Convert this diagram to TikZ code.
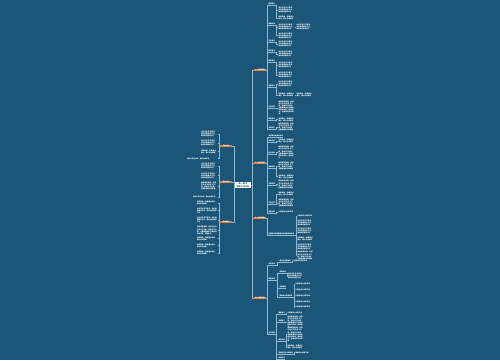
\documentclass[tikz,border=0pt]{standalone}
\usepackage{fontspec}
\newfontfamily\cjk{Noto Sans CJK SC}
\XeTeXlinebreaklocale "zh"
\XeTeXlinebreakskip=0pt plus 0.5pt

\definecolor{mapbg}{RGB}{27,85,119}
\definecolor{topicorange}{RGB}{232,128,62}
\definecolor{linkblue}{RGB}{140,185,212}

\newcommand{\mini}{\cjk\bfseries\fontsize{1.6pt}{2.1pt}\selectfont}
% filler texts, by length
\newcommand{\ta}{认真备课上好每节课}
\newcommand{\tb}{钻研教材，把握重点难点，精心设计教案}
\newcommand{\tc}{关注学生学习情况，及时调整教学方法，做好课后辅导工作}
\newcommand{\td}{加强课堂管理，培养学生良好的学习习惯，激发学习兴趣，注重基础知识的掌握}
\newcommand{\te}{加强课堂管理，培养学生良好的学习习惯，激发学习兴趣，注重基础知识与基本技能的训练，提高能力}
\newcommand{\tf}{加强课堂管理，培养学生良好的学习习惯，激发学习兴趣，注重基础知识与基本技能的训练，提高能力，全面提升教学质量。}
\newcommand{\tg}{坚持以学生为本，面向全体学生}

\tikzset{
  centre/.style={fill=white, text=mapbg, font=\cjk\bfseries\fontsize{2pt}{2.5pt}\selectfont,
    text width=14pt, align=center, inner sep=0.8pt},
  topic/.style={fill=topicorange, text=white, font=\mini, minimum width=12pt,
    minimum height=2.8pt, inner sep=0.2pt},
  subtopic/.style={text=white, font=\mini, inner sep=0.3pt, anchor=west,
    append after command={(\tikzlastnode.south west) edge[link] (\tikzlastnode.south east)}},
  leaf/.style={text=white, font=\mini, text width=#1, align=left, inner sep=0.3pt, anchor=west},
  leaf/.default=16pt,
  lleaf/.style={leaf=#1, anchor=east},
  lleaf/.default=16pt,
  link/.style={draw=linkblue, line width=0.35pt},
  elbow/.style={to path={-- ++(#1,0) |- (\tikztotarget)}},
}

\begin{document}
\begin{tikzpicture}[x=1pt,y=-1pt]
\fill[mapbg] (0,0) rectangle (500,360);
\useasboundingbox (0,0) rectangle (500,360);

% centre and main topics
\node[centre] (root) at (243,185) {高一数学\\教学工作计划};
\node[topic] (r1) at (260,70) {一、指导思想};
\node[topic] (r2) at (260,163) {二、教学目标};
\node[topic] (r3) at (260,218) {三、教学措施};
\node[topic] (r4) at (260,298) {四、教学进度};
\node[topic] (l1) at (226,146) {学情分析};
\node[topic] (l2) at (226,182) {教材分析};
\node[topic] (l3) at (226,222) {具体要求};

\foreach \n in {r1,r2,r3,r4} \draw[link] (root.east) to[elbow=1.5] (\n.west);
\foreach \n in {l1,l2,l3} \draw[link] (root.west) to[elbow=-1] (\n.east);

% first branch
\node[subtopic] (a1) at (268,4) {教学理念};
\node[subtopic] (a2) at (268,24) {课程标准};
\node[subtopic] (a3) at (268,41) {学生情况};
\node[subtopic] (a4) at (268,51) {教学重点};
\node[subtopic] (a5) at (268,61) {教学难点};
\node[subtopic] (a6) at (268,86) {课堂教学};
\node[subtopic] (a7) at (268,107) {作业布置};
\node[subtopic] (a8) at (268,119) {课后辅导};
\node[subtopic] (a9) at (268,128) {考试评价};
\foreach \n in {a1,a2,a3,a4,a5,a6,a7,a8,a9} \draw[link] (r1.east) to[elbow=1] (\n.south west);

\node[leaf] (a1x) at (278,10) {\tc};
\node[leaf] (a1y) at (278,18) {\tb};
\node[leaf] (a2x) at (278,27) {\tc};
\node[leaf] (a2z) at (296,27) {\tc};
\node[leaf] (a2y) at (278,35.5) {\tc};
\node[leaf] (a3x) at (278,44) {\tc};
\node[leaf] (a4x) at (278,54) {\tc};
\node[leaf] (a5x) at (278,65) {\tc};
\node[leaf] (a5y) at (278,75) {\tc};
\node[leaf] (a6x) at (278,84) {\tc};
\node[leaf] (a6y) at (278,95) {\tb};
\node[leaf] (a6z) at (296,95) {\tb};
\node[leaf] (a7x) at (278,108) {\tf};
\node[leaf] (a8x) at (278,119.5) {\tb};
\node[leaf] (a9x) at (278,127) {\td};
\draw[link] (a1.south east) to[elbow=1] (a1x.west);
\draw[link] (a1.south east) to[elbow=1] (a1y.west);
\draw[link] (a2.south east) to[elbow=1] (a2x.west);
\draw[link] (a2.south east) to[elbow=1] (a2y.west);
\draw[link] (a2x.east) -- (a2z.west);
\draw[link] (a3.south east) to[elbow=1] (a3x.west);
\draw[link] (a4.south east) to[elbow=1] (a4x.west);
\draw[link] (a5.south east) to[elbow=1] (a5x.west);
\draw[link] (a5.south east) to[elbow=1] (a5y.west);
\draw[link] (a6.south east) to[elbow=1] (a6x.west);
\draw[link] (a6.south east) to[elbow=1] (a6y.west);
\draw[link] (a6y.east) -- (a6z.west);
\draw[link] (a7.south east) to[elbow=1] (a7x.west);
\draw[link] (a8.south east) to[elbow=1] (a8x.west);
\draw[link] (a9.south east) to[elbow=1] (a9x.west);

% second branch
\node[subtopic] (b1) at (268,136) {本学期总体教学目标};
\node[subtopic] (b2) at (268,141) {知识目标};
\node[subtopic] (b3) at (268,153) {能力目标};
\node[subtopic] (b4) at (268,167) {情感目标};
\node[subtopic] (b5) at (268,184) {习惯养成};
\node[subtopic] (b6) at (268,203) {学法指导};
\node[subtopic] (b7) at (268,212) {质量目标};
\foreach \n in {b1,b2,b3,b4,b5,b6,b7} \draw[link] (r2.east) to[elbow=1] (\n.south west);

\node[leaf] (b2x) at (278,141) {\tb};
\node[leaf] (b3x) at (278,152.5) {\te};
\node[leaf] (b4x) at (278,166) {\td};
\node[leaf] (b4y) at (278,176.5) {\tb};
\node[leaf] (b5x) at (278,184.5) {\td};
\node[leaf] (b6x) at (278,194) {\tb};
\node[leaf] (b6y) at (278,203) {\td};
\node[leaf] (b7x) at (278,212) {\ta};
\draw[link] (b2.south east) to[elbow=1] (b2x.west);
\draw[link] (b3.south east) to[elbow=1] (b3x.west);
\draw[link] (b4.south east) to[elbow=1] (b4x.west);
\draw[link] (b4.south east) to[elbow=1] (b4y.west);
\draw[link] (b5.south east) to[elbow=1] (b5x.west);
\draw[link] (b6.south east) to[elbow=1] (b6x.west);
\draw[link] (b6.south east) to[elbow=1] (b6y.west);
\draw[link] (b7.south east) to[elbow=1] (b7x.west);

% third branch
\node[subtopic] (c1) at (268,234) {加强教学常规管理切实提高课堂效率};
\draw[link] (r3.east) to[elbow=1] (c1.south west);
\node[leaf] (c1a) at (297,216) {\ta};
\node[leaf] (c1b) at (297,222.5) {\tc};
\node[leaf] (c1c) at (297,231) {\tc};
\node[leaf] (c1d) at (297,239) {\tb};
\node[leaf] (c1e) at (297,246.5) {\tc};
\node[leaf] (c1f) at (297,255.5) {\td};
\foreach \n in {c1a,c1b,c1c,c1d,c1e,c1f} \draw[link] (c1.south east) to[elbow=1.3] (\n.west);

% fourth branch
\node[subtopic] (d1) at (268,264) {单元安排};
\node[subtopic] (d2) at (268,279) {课时安排};
\node[subtopic] (d3) at (268,333) {复习安排};
\foreach \n in {d1,d2,d3} \draw[link] (r4.east) to[elbow=1] (\n.south west);

\node[subtopic] (d1a) at (279,261) {集合与函数概念};
\node[leaf] (d1x) at (292,261) {\ta};
\draw[link] (d1.south east) to[elbow=2] (d1a.south west);
\draw[link] (d1a.south east) to[elbow=0.5] (d1x.west);

\node[subtopic] (d2a) at (279,272) {指数函数};
\node[subtopic] (d2b) at (279,287) {对数函数};
\node[subtopic] (d2c) at (279,296) {幂函数与函数应用};
\foreach \n in {d2a,d2b,d2c} \draw[link] (d2.south east) to[elbow=2] (\n.south west);
\node[leaf] (d2ax) at (287.5,276) {\tc};
\draw[link] (d2a.south east) to[elbow=0.6] (d2ax.west);
\node[leaf] (d2c1) at (295,284) {\ta};
\node[leaf] (d2c2) at (295,290) {\ta};
\node[leaf] (d2c3) at (295,296) {\ta};
\node[leaf] (d2c4) at (295,302) {\ta};
\node[leaf] (d2c5) at (295,307) {\ta};
\foreach \n in {d2c1,d2c2,d2c3,d2c4,d2c5} \draw[link] (d2c.south east) to[elbow=1] (\n.west);

\node[subtopic] (e1) at (278,313) {基础复习};
\node[subtopic] (e2) at (278,321) {专题复习};
\node[subtopic] (e3) at (278,340) {综合训练};
\node[subtopic] (e4) at (278,353) {考前指导与心理调适};
\node[subtopic] (e5) at (278,358) {总结反思};
\foreach \n in {e1,e2,e3,e4,e5} \draw[link] (d3.south east) to[elbow=1] (\n.south west);
\node[leaf] (e1x) at (287,313) {\ta};
\node[leaf] (e2x) at (287,322) {\te};
\node[leaf] (e3x) at (287,334.5) {\tf};
\node[leaf] (e3y) at (287,347) {\tb};
\node[leaf] (e4x) at (293.5,353) {\ta};
\draw[link] (e1.south east) to[elbow=0.6] (e1x.west);
\draw[link] (e2.south east) to[elbow=0.6] (e2x.west);
\draw[link] (e3.south east) to[elbow=0.6] (e3x.west);
\draw[link] (e3.south east) to[elbow=0.6] (e3y.west);
\draw[link] (e4.south east) to[elbow=0.6] (e4x.west);

% left side
\node[lleaf] (la1) at (217.5,134) {\tc};
\node[lleaf] (la2) at (217.5,143) {\tc};
\node[lleaf] (la3) at (217.5,151.5) {\tb};
\node[lleaf=30pt] (la4) at (217.5,158.5) {\tg};
\foreach \n in {la1,la2,la3,la4} \draw[link] (l1.west) to[elbow=-1] (\n.east);

\node[lleaf] (lb1) at (217.5,166) {\tc};
\node[lleaf] (lb2) at (217.5,175.5) {\tc};
\node[lleaf] (lb3) at (217.5,186) {\td};
\node[lleaf=24pt] (lb4) at (217.5,197) {\tg};
\foreach \n in {lb1,lb2,lb3,lb4} \draw[link] (l2.west) to[elbow=-1] (\n.east);

\node[lleaf=20pt] (lc1) at (217.5,203) {\tb};
\node[lleaf=20pt] (lc2) at (217.5,210.5) {\tc};
\node[lleaf=20pt] (lc3) at (217.5,220) {\tc};
\node[lleaf=20pt] (lc4) at (217.5,230.5) {\te};
\node[lleaf=20pt] (lc5) at (217.5,238.5) {\tb};
\node[lleaf=20pt] (lc6) at (217.5,245.5) {\tb};
\node[lleaf=20pt] (lc7) at (217.5,253) {\tb};
\foreach \n in {lc1,lc2,lc3,lc4,lc5,lc6,lc7} \draw[link] (l3.west) to[elbow=-1] (\n.east);
\end{tikzpicture}
\end{document}
